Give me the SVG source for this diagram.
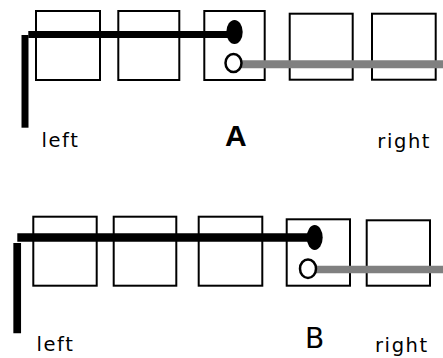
<svg xmlns="http://www.w3.org/2000/svg" width="443" height="358" viewBox="0 0 443 358">
<style>
.box{fill:none;stroke:#000;stroke-width:2}
.blk{stroke:#000;stroke-width:7;fill:none}
.gry{stroke:#808080;stroke-width:8;fill:none}
.dot{fill:#000}
.ring{fill:#fff;stroke:#000;stroke-width:2.5}
.lbl{font-family:"DejaVu Sans",sans-serif;font-size:19.5px;letter-spacing:1.6px;fill:#000}
.big{font-family:"DejaVu Sans",sans-serif;fill:#000}
</style>
<rect width="443" height="358" fill="#fff"/>
<g id="rowA">
<g id="a1"><rect class="box" x="36" y="11" width="64" height="69"/></g>
<g id="a2"><rect class="box" x="118.3" y="11" width="61" height="69"/></g>
<g id="a3"><rect class="box" x="204.3" y="11" width="60.4" height="69"/></g>
<g id="a4"><rect class="box" x="289.7" y="13.7" width="63" height="66"/></g>
<g id="a5"><rect class="box" x="372" y="13.7" width="63.7" height="66"/></g>
</g>
<g id="rowB">
<g id="b1"><rect class="box" x="33.3" y="216.7" width="63.4" height="69"/></g>
<g id="b2"><rect class="box" x="113.7" y="216.7" width="62.6" height="69"/></g>
<g id="b3"><rect class="box" x="198.7" y="216.7" width="63.6" height="69"/></g>
<g id="b4"><rect class="box" x="286.7" y="219.3" width="63.3" height="66.4"/></g>
<g id="b5"><rect class="box" x="366.7" y="220.3" width="63.3" height="65.4"/></g>
</g>
<g id="connectors">
<line class="blk" x1="28.3" y1="34.5" x2="228" y2="34.5"/>
<line class="blk" x1="25" y1="35" x2="25" y2="127.7"/>
<line class="gry" x1="240" y1="64.2" x2="443" y2="64.2"/>
<line class="blk" x1="17.3" y1="237.5" x2="310" y2="237.5" style="stroke-width:8.4"/>
<line class="blk" x1="17.2" y1="243" x2="17.2" y2="333.3" style="stroke-width:7.7"/>
<line class="gry" x1="314" y1="269.5" x2="443" y2="269.5" style="stroke-width:7.6"/>
</g>
<g id="pointsA">
<ellipse class="dot" cx="234.5" cy="32" rx="8.2" ry="12"/>
<ellipse class="ring" cx="233.5" cy="63" rx="8" ry="9"/>
</g>
<g id="pointsB">
<ellipse class="dot" cx="314.7" cy="237.5" rx="8" ry="12.5"/>
<ellipse class="ring" cx="308" cy="268.7" rx="8" ry="9.2"/>
</g>
<g id="labels">
<text class="lbl" x="41.5" y="146.7">left</text>
<text x="225" y="146" font-family="'Liberation Sans',Arial,sans-serif" font-size="30" font-weight="bold" fill="#000">A</text>
<text class="lbl" x="377.3" y="147.7">right</text>
<text class="lbl" x="36.5" y="350.7">left</text>
<text class="big" x="305" y="348.2" font-size="28">B</text>
<text class="lbl" x="375" y="352">right</text>
</g>
</svg>
